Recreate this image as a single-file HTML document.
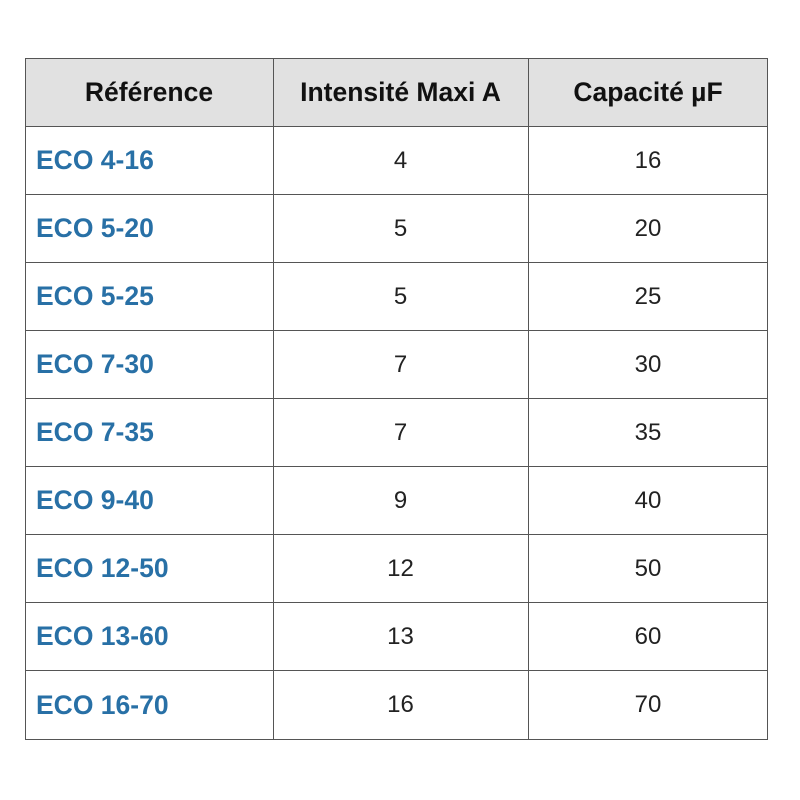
<!DOCTYPE html>
<html><head><style>
body{margin:0;width:800px;height:800px;background:#fff;font-family:"Liberation Sans",Arial,sans-serif;position:relative;overflow:hidden}
.c{position:absolute;box-sizing:border-box;display:flex;align-items:center;font-size:23px;color:#222}
.h{background:#e1e1e1;color:#111;font-weight:bold;justify-content:center;font-size:26.5px}
.r{color:#2870a6;font-weight:bold;padding-left:11px;font-size:26.5px;padding-top:1px}
.n{justify-content:center;font-size:24px;padding-top:1px}
.hl{position:absolute;left:25px;width:743px;height:1px;background:#555}
.vl{position:absolute;top:58px;height:681px;width:1px;background:#555}
</style></head><body>
<div class="c h" style="left:25px;top:58px;width:248px;height:68px">Référence</div>
<div class="c h" style="left:273px;top:58px;width:255px;height:68px">Intensité Maxi A</div>
<div class="c h" style="left:528px;top:58px;width:240px;height:68px">Capacité µF</div>
<div class="hl" style="top:58px"></div>
<div class="hl" style="top:126px"></div>
<div class="hl" style="top:194px"></div>
<div class="hl" style="top:262px"></div>
<div class="hl" style="top:330px"></div>
<div class="hl" style="top:398px"></div>
<div class="hl" style="top:466px"></div>
<div class="hl" style="top:534px"></div>
<div class="hl" style="top:602px"></div>
<div class="hl" style="top:670px"></div>
<div class="hl" style="top:739px"></div>
<div class="vl" style="left:25px"></div>
<div class="vl" style="left:273px"></div>
<div class="vl" style="left:528px"></div>
<div class="vl" style="left:767px"></div>

<div class="c r" style="left:25px;top:126px;width:248px;height:68px">ECO 4-16</div><div class="c n" style="left:273px;top:126px;width:255px;height:68px">4</div><div class="c n" style="left:528px;top:126px;width:240px;height:68px">16</div>
<div class="c r" style="left:25px;top:194px;width:248px;height:68px">ECO 5-20</div><div class="c n" style="left:273px;top:194px;width:255px;height:68px">5</div><div class="c n" style="left:528px;top:194px;width:240px;height:68px">20</div>
<div class="c r" style="left:25px;top:262px;width:248px;height:68px">ECO 5-25</div><div class="c n" style="left:273px;top:262px;width:255px;height:68px">5</div><div class="c n" style="left:528px;top:262px;width:240px;height:68px">25</div>
<div class="c r" style="left:25px;top:330px;width:248px;height:68px">ECO 7-30</div><div class="c n" style="left:273px;top:330px;width:255px;height:68px">7</div><div class="c n" style="left:528px;top:330px;width:240px;height:68px">30</div>
<div class="c r" style="left:25px;top:398px;width:248px;height:68px">ECO 7-35</div><div class="c n" style="left:273px;top:398px;width:255px;height:68px">7</div><div class="c n" style="left:528px;top:398px;width:240px;height:68px">35</div>
<div class="c r" style="left:25px;top:466px;width:248px;height:68px">ECO 9-40</div><div class="c n" style="left:273px;top:466px;width:255px;height:68px">9</div><div class="c n" style="left:528px;top:466px;width:240px;height:68px">40</div>
<div class="c r" style="left:25px;top:534px;width:248px;height:68px">ECO 12-50</div><div class="c n" style="left:273px;top:534px;width:255px;height:68px">12</div><div class="c n" style="left:528px;top:534px;width:240px;height:68px">50</div>
<div class="c r" style="left:25px;top:602px;width:248px;height:68px">ECO 13-60</div><div class="c n" style="left:273px;top:602px;width:255px;height:68px">13</div><div class="c n" style="left:528px;top:602px;width:240px;height:68px">60</div>
<div class="c r" style="left:25px;top:670px;width:248px;height:69px">ECO 16-70</div><div class="c n" style="left:273px;top:670px;width:255px;height:69px">16</div><div class="c n" style="left:528px;top:670px;width:240px;height:69px">70</div>
</body></html>
